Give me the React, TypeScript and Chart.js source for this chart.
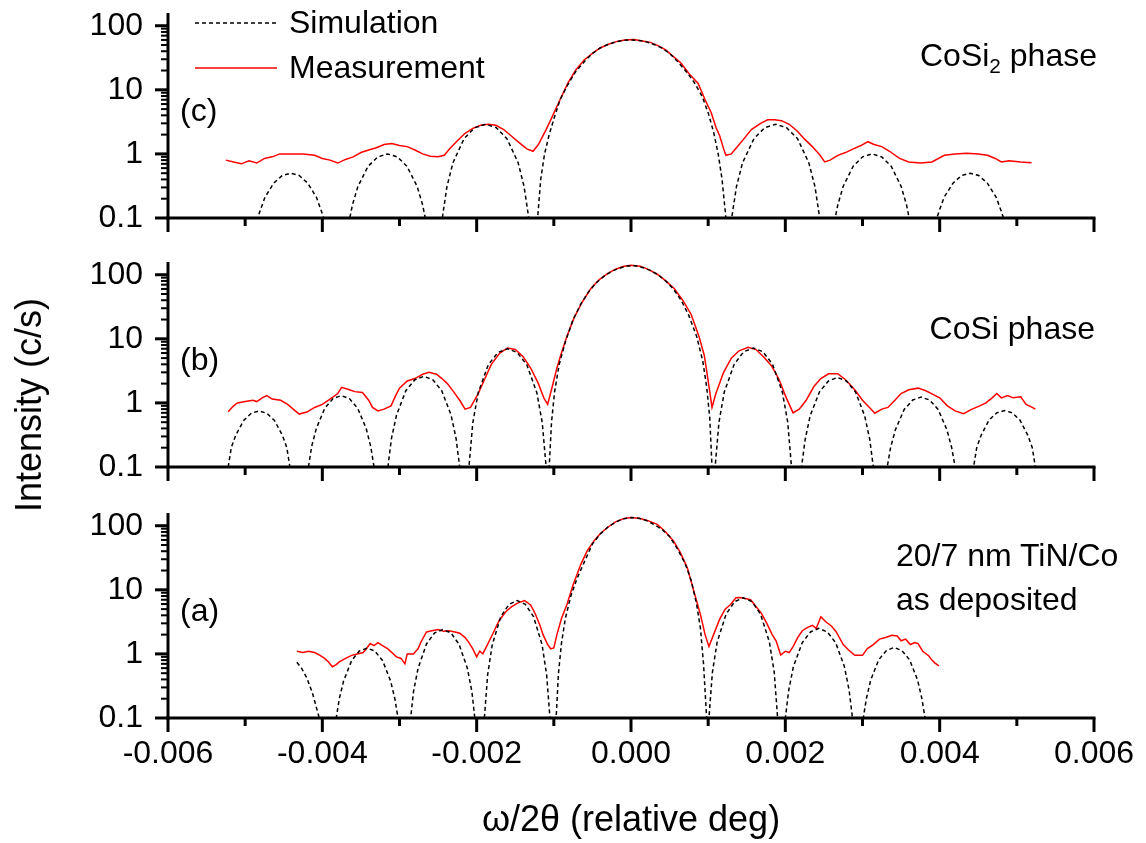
import React, { useEffect, useRef } from "react";
import { Chart, registerables } from "chart.js";

Chart.register(...registerables);

// ---------- axes ----------
const X_MIN = -0.006;
const X_MAX = 0.006;
const Y_MIN = 0.1;
const Y_MAX = 158;
const xMajorTicks = [-0.006, -0.004, -0.002, 0, 0.002, 0.004, 0.006];
const xMinorTicks = [-0.005, -0.003, -0.001, 0.001, 0.003, 0.005];
const yDecades = [0.1, 1, 10, 100];
const yMinorFactors = [2, 3, 4, 5, 6, 7, 8, 9];

const xTitle = "ω/2θ (relative deg)";
const yTitle = "Intensity (c/s)";
const seriesNames = ["Simulation", "Measurement"];

// ---------- data (x in 1e-3 deg) ----------
// Panel (c) CoSi2 phase
const simC_x = [
  -4.85, -4.806, -4.744, -4.63, -4.52, -4.41, -4.3, -4.19, -4.076, -4.014, -3.97, -3.815,
  -3.66, -3.61, -3.539, -3.408, -3.281, -3.155, -3.029, -2.903, -2.771, -2.7, -2.65, -2.545,
  -2.44, -2.385, -2.307, -2.163, -2.024, -1.885, -1.746, -1.608, -1.463, -1.386, -1.33, -1.27,
  -1.21, -1.17, -1.12, -1.06, -1.0, -0.92, -0.82, -0.72, -0.6, -0.5, -0.4, -0.3, -0.2, -0.1, 0,
  0.1, 0.2, 0.3, 0.4, 0.5, 0.6, 0.72, 0.82, 0.92, 1.0, 1.07, 1.13, 1.18, 1.23, 1.27,
  1.31, 1.367, 1.446, 1.593, 1.734, 1.875, 2.016, 2.158, 2.304, 2.384, 2.44, 2.535,
  2.63, 2.68, 2.749, 2.878, 3.001, 3.125, 3.249, 3.373, 3.501, 3.571, 3.62, 3.785,
  3.95, 3.995, 4.057, 4.173, 4.284, 4.395, 4.506, 4.618, 4.733, 4.796, 4.84,
];
const simC_y = [
  0.09, 0.13, 0.21, 0.35, 0.46, 0.5, 0.46, 0.35, 0.21, 0.13, 0.09, 0.01,
  0.08, 0.16, 0.31, 0.64, 0.9, 1.0, 0.9, 0.64, 0.31, 0.16, 0.08, 0.01,
  0.11, 0.31, 0.73, 1.73, 2.57, 2.9, 2.57, 1.73, 0.73, 0.31, 0.11, 0.01,
  0.1, 0.4, 1.0, 2.0, 3.5, 7, 12, 19, 28, 37, 45, 51, 56, 59, 60,
  59, 56, 51, 45, 37, 28, 19, 13, 8, 4.4, 2.2, 1.0, 0.4, 0.1, 0.01,
  0.11, 0.31, 0.73, 1.73, 2.57, 2.9, 2.57, 1.73, 0.73, 0.31, 0.11, 0.01,
  0.08, 0.16, 0.31, 0.64, 0.9, 1.0, 0.9, 0.64, 0.31, 0.16, 0.08, 0.01,
  0.09, 0.13, 0.21, 0.35, 0.46, 0.5, 0.46, 0.35, 0.21, 0.13, 0.09,
];
const measC_x = [
  -5.25, -5.15, -5.05, -4.95, -4.85, -4.75, -4.65, -4.55, -4.4, -4.25, -4.1, -4.0, -3.9, -3.8,
  -3.7, -3.6, -3.5, -3.4, -3.3, -3.2, -3.1, -3.0, -2.9, -2.8, -2.7, -2.6, -2.5, -2.42, -2.35,
  -2.25, -2.15, -2.05, -1.95, -1.85, -1.75, -1.65, -1.55, -1.45, -1.35, -1.27, -1.2, -1.1,
  -1.04, -0.92, -0.82, -0.72, -0.61, -0.5, -0.4, -0.3, -0.18, -0.08, 0.04, 0.15, 0.25, 0.35,
  0.45, 0.55, 0.65, 0.75, 0.87, 0.96, 1.04, 1.1, 1.15, 1.2, 1.23, 1.3, 1.38, 1.46, 1.56, 1.68,
  1.77, 1.86, 1.95, 2.05, 2.15, 2.25, 2.35, 2.45, 2.51, 2.58, 2.68, 2.78, 2.88, 2.98, 3.07,
  3.15, 3.25, 3.35, 3.48, 3.6, 3.75, 3.9, 4.06, 4.2, 4.35, 4.5, 4.62, 4.72, 4.8, 4.9, 5.05, 5.19,
];
const measC_y = [
  0.8, 0.75, 0.7, 0.78, 0.72, 0.85, 0.9, 1.0, 1.0, 1.0, 0.95, 0.85, 0.8, 0.72,
  0.82, 0.9, 1.05, 1.15, 1.25, 1.4, 1.45, 1.35, 1.3, 1.15, 1.0, 0.92, 0.9, 0.95, 1.2,
  1.6, 2.1, 2.5, 2.8, 2.9, 2.8, 2.4, 1.9, 1.5, 1.2, 1.1, 1.4, 2.4,
  3.4, 7, 12.6, 20, 29, 37, 45, 51, 57, 60, 61, 58, 55, 49,
  42, 33, 26, 18, 12.6, 7, 4.4, 2.6, 1.9, 1.2, 0.95, 1.0, 1.3, 1.7, 2.4, 3.0,
  3.4, 3.4, 3.3, 2.9, 2.3, 1.7, 1.3, 0.95, 0.75, 0.8, 0.95, 1.05, 1.2, 1.35, 1.55,
  1.4, 1.3, 1.1, 0.85, 0.75, 0.72, 0.75, 0.95, 1.0, 1.02, 1.0, 0.95, 0.85, 0.75, 0.78, 0.75, 0.73,
];

// Panel (b) CoSi phase
const simB_x = [
  -5.22, -5.18, -5.124, -5.02, -4.92, -4.82, -4.72, -4.62, -4.516, -4.46, -4.42, -4.3,
  -4.18, -4.138, -4.078, -3.968, -3.861, -3.755, -3.649, -3.543, -3.432, -3.373, -3.33, -3.24,
  -3.15, -3.104, -3.038, -2.918, -2.801, -2.685, -2.569, -2.453, -2.332, -2.267, -2.22, -2.16,
  -2.1, -2.05, -1.98, -1.85, -1.725, -1.6, -1.475, -1.35, -1.22, -1.15, -1.1, -1.08,
  -1.06, -1.03, -0.99, -0.93, -0.85, -0.75, -0.65, -0.55, -0.45, -0.35, -0.25, -0.15, -0.05,
  0.05, 0.15, 0.25, 0.35, 0.45, 0.55, 0.65, 0.75, 0.85, 0.93, 0.98, 1.02, 1.05, 1.07,
  1.09, 1.14, 1.209, 1.338, 1.461, 1.585, 1.709, 1.833, 1.961, 2.031, 2.08, 2.145,
  2.21, 2.257, 2.322, 2.443, 2.559, 2.675, 2.791, 2.908, 3.028, 3.094, 3.14, 3.23,
  3.32, 3.364, 3.426, 3.54, 3.65, 3.76, 3.87, 3.98, 4.094, 4.156, 4.2, 4.32,
  4.44, 4.48, 4.536, 4.64, 4.74, 4.84, 4.94, 5.04, 5.144, 5.2, 5.24,
];
const simB_y = [
  0.1, 0.2, 0.31, 0.53, 0.69, 0.75, 0.69, 0.53, 0.31, 0.2, 0.1, 0.01,
  0.1, 0.21, 0.4, 0.83, 1.17, 1.3, 1.17, 0.83, 0.4, 0.21, 0.1, 0.01,
  0.1, 0.28, 0.65, 1.55, 2.3, 2.6, 2.3, 1.55, 0.65, 0.28, 0.1, 0.01,
  0.1, 0.49, 1.44, 3.93, 6.12, 7.0, 6.12, 3.93, 1.44, 0.49, 0.1, 0.01,
  0.1, 0.5, 1.5, 4, 9, 20, 35, 54, 75, 95, 113, 127, 137,
  138, 130, 117, 100, 80, 60, 40, 23, 11, 4.5, 1.8, 0.6, 0.1, 0.01,
  0.1, 0.5, 1.48, 4.04, 6.29, 7.2, 6.29, 4.04, 1.48, 0.5, 0.1, 0.01,
  0.1, 0.27, 0.63, 1.49, 2.2, 2.5, 2.2, 1.49, 0.63, 0.27, 0.1, 0.01,
  0.1, 0.2, 0.38, 0.79, 1.11, 1.23, 1.11, 0.79, 0.38, 0.2, 0.1, 0.01,
  0.1, 0.2, 0.31, 0.54, 0.7, 0.76, 0.7, 0.54, 0.31, 0.2, 0.1,
];
const measB_x = [
  -5.22, -5.15, -5.1, -5.0, -4.9, -4.85, -4.78, -4.72, -4.65, -4.54, -4.45, -4.35, -4.3, -4.2,
  -4.1, -4.0, -3.9, -3.8, -3.75, -3.65, -3.58, -3.48, -3.4, -3.35, -3.28, -3.2, -3.11, -3.05,
  -3.0, -2.9, -2.8, -2.7, -2.62, -2.52, -2.45, -2.38, -2.3, -2.22, -2.15, -2.08, -1.98, -1.9,
  -1.81, -1.7, -1.6, -1.5, -1.4, -1.3, -1.2, -1.13, -1.08, -1.02, -0.96, -0.91, -0.83, -0.74,
  -0.64, -0.52, -0.41, -0.3, -0.2, -0.09, 0, 0.12, 0.23, 0.35, 0.45, 0.56, 0.67, 0.78, 0.88,
  0.95, 1.0, 1.05, 1.1, 1.2, 1.3, 1.4, 1.52, 1.62, 1.72, 1.82, 1.92, 2.0, 2.1, 2.18, 2.27,
  2.37, 2.46, 2.56, 2.68, 2.78, 2.9, 3.0, 3.09, 3.16, 3.25, 3.33, 3.42, 3.5, 3.6, 3.72, 3.82,
  3.92, 4.0, 4.1, 4.2, 4.31, 4.42, 4.52, 4.6, 4.68, 4.74, 4.8, 4.88, 4.95, 5.05, 5.12, 5.2, 5.24,
];
const measB_y = [
  0.73, 0.9, 1.0, 1.05, 1.1, 1.05, 1.2, 1.3, 1.15, 1.1, 0.95, 0.75, 0.67, 0.72,
  0.85, 0.95, 1.15, 1.4, 1.75, 1.6, 1.5, 1.45, 1.1, 0.85, 0.75, 0.8, 0.9, 1.3,
  1.7, 2.2, 2.4, 2.8, 3.0, 2.8, 2.4, 2.0, 1.5, 1.1, 0.8, 0.85, 1.4, 2.3,
  4.0, 6.0, 7.2, 6.8, 5.3, 3.5, 2.0, 1.2, 0.95, 1.8, 3.5, 5.6, 11, 21,
  36, 61, 84, 105, 122, 136, 140, 136, 120, 100, 80, 61, 40, 24, 11,
  5.5, 2.2, 0.85, 1.4, 3.0, 5.0, 6.5, 7.4, 6.8, 5.2, 3.8, 2.3, 1.3, 0.7, 0.8, 1.1,
  1.8, 2.4, 2.85, 2.85, 2.3, 1.6, 1.1, 0.85, 0.69, 0.8, 0.85, 1.1, 1.4, 1.6, 1.7, 1.55,
  1.35, 1.2, 0.9, 0.75, 0.68, 0.8, 0.9, 1.0, 1.2, 1.4, 1.2, 1.3, 1.2, 1.25, 0.95, 0.85, 0.8,
];

// Panel (a) 20/7 nm TiN/Co as deposited
const simA_x = [
  -4.33, -4.27, -4.2, -4.13, -4.08, -4.04, -3.93,
  -3.82, -3.78, -3.724, -3.62, -3.52, -3.42, -3.32, -3.22, -3.116, -3.06, -3.02, -2.94,
  -2.86, -2.818, -2.759, -2.65, -2.545, -2.44, -2.335, -2.23, -2.121, -2.062, -2.02, -1.96,
  -1.9, -1.858, -1.798, -1.688, -1.581, -1.475, -1.369, -1.263, -1.152, -1.093, -1.05, -1.01,
  -0.97, -0.94, -0.9, -0.85, -0.78, -0.7, -0.6, -0.5, -0.4, -0.3, -0.2, -0.1, 0,
  0.1, 0.2, 0.3, 0.4, 0.5, 0.6, 0.7, 0.78, 0.85, 0.9, 0.94, 0.98, 0.995,
  1.01, 1.055, 1.117, 1.233, 1.344, 1.455, 1.566, 1.678, 1.793, 1.856, 1.9, 1.95,
  2.0, 2.044, 2.104, 2.218, 2.326, 2.435, 2.544, 2.653, 2.766, 2.827, 2.87, 2.94,
  3.01, 3.05, 3.106, 3.21, 3.31, 3.41, 3.51, 3.61, 3.714, 3.77, 3.81, 3.84,
];
const simA_y = [
  0.74, 0.6, 0.42, 0.25, 0.15, 0.1, 0.01,
  0.1, 0.2, 0.38, 0.79, 1.11, 1.23, 1.11, 0.79, 0.38, 0.2, 0.1, 0.01,
  0.09, 0.26, 0.6, 1.43, 2.13, 2.4, 2.13, 1.43, 0.6, 0.26, 0.09, 0.01,
  0.1, 0.47, 1.39, 3.81, 5.94, 6.8, 5.94, 3.81, 1.39, 0.47, 0.1, 0.01,
  0.1, 0.5, 1.5, 3.6, 8, 15, 28, 52, 74, 95, 114, 128, 134,
  131, 121, 104, 88, 68, 44, 26, 14, 6, 2.5, 0.7, 0.1, 0.01,
  0.1, 0.52, 1.54, 4.2, 6.56, 7.5, 6.56, 4.2, 1.54, 0.52, 0.1, 0.01,
  0.1, 0.27, 0.63, 1.49, 2.2, 2.5, 2.2, 1.49, 0.63, 0.27, 0.1, 0.01,
  0.1, 0.2, 0.39, 0.81, 1.13, 1.26, 1.13, 0.81, 0.39, 0.2, 0.1, 0.02,
];
const measA_x = [
  -4.33, -4.25, -4.18, -4.1, -4.03, -3.97, -3.92, -3.87, -3.82, -3.78, -3.7, -3.62, -3.55,
  -3.47, -3.42, -3.38, -3.33, -3.28, -3.22, -3.15, -3.1, -3.04, -2.98, -2.93, -2.9, -2.82,
  -2.76, -2.72, -2.65, -2.58, -2.5, -2.43, -2.36, -2.28, -2.22, -2.15, -2.1, -2.05, -2.0,
  -1.96, -1.92, -1.86, -1.78, -1.71, -1.62, -1.55, -1.47, -1.38, -1.3, -1.24, -1.18, -1.14,
  -1.08, -1.04, -1.0, -0.96, -0.9, -0.83, -0.75, -0.65, -0.57, -0.48, -0.4, -0.31, -0.2,
  -0.09, 0, 0.12, 0.22, 0.34, 0.45, 0.55, 0.64, 0.73, 0.82, 0.9, 0.96, 1.01, 1.07, 1.15,
  1.22, 1.29, 1.36, 1.42, 1.48, 1.55, 1.62, 1.69, 1.76, 1.83, 1.88, 1.94, 2.0, 2.05, 2.1,
  2.16, 2.22, 2.29, 2.35, 2.4, 2.46, 2.52, 2.6, 2.66, 2.75, 2.82, 2.9, 3.0, 3.06, 3.14, 3.22,
  3.3, 3.38, 3.45, 3.5, 3.56, 3.62, 3.68, 3.72, 3.78, 3.86, 3.9, 3.94, 3.99,
];
const measA_y = [
  1.1, 1.05, 1.1, 1.05, 0.95, 0.85, 0.75, 0.63, 0.68, 0.75, 0.85, 0.95, 1.0,
  1.05, 1.25, 1.45, 1.35, 1.5, 1.35, 1.2, 1.05, 0.9, 0.85, 0.7, 1.0, 1.0,
  1.2, 1.55, 2.2, 2.3, 2.4, 2.25, 2.3, 2.2, 2.1, 1.8, 1.5, 1.2, 0.9,
  1.1, 1.0, 1.4, 2.2, 3.3, 4.6, 5.4, 6.2, 6.8, 5.8, 4.2, 2.8, 2.0,
  1.4, 1.2, 1.24, 2.0, 3.6, 5.9, 12, 25, 40, 58, 75, 93, 115,
  130, 134, 130, 120, 105, 80, 58, 38, 22, 9, 4.1, 2.0, 1.3, 2.0, 3.5,
  5.0, 5.9, 7.5, 7.6, 7.3, 7.0, 5.5, 4.3, 3.0, 2.0, 1.6, 0.96, 1.1, 1.05, 1.3,
  1.8, 2.3, 2.6, 2.8, 2.5, 3.8, 3.2, 2.7, 2.2, 1.4, 1.15, 0.95, 0.95, 1.2, 1.4, 1.7,
  1.8, 1.95, 1.9, 1.6, 1.7, 1.4, 1.5, 1.45, 1.1, 0.93, 0.8, 0.72, 0.65,
];

// ---------- styling ----------
const FONT = '"Liberation Sans", Arial, Helvetica, sans-serif';
const W = 1146;
const PLOT_LEFT = 168;
const PLOT_RIGHT = 1094;
const PLOT_H = 205;
const PAD_TOP = 13;

const zeroPad = (s: any) => {
  s.paddingTop = 0;
  s.paddingBottom = 0;
  s.paddingLeft = 0;
  s.paddingRight = 0;
};

const axesPlugin = {
  id: "axesDraw",
  afterDatasetsDraw(chart: any) {
    const { ctx, chartArea, scales } = chart;
    const { left, right, top, bottom } = chartArea;
    const x = scales.x;
    const y = scales.y;
    const seg = (x1: number, y1: number, x2: number, y2: number) => {
      ctx.beginPath();
      ctx.moveTo(x1, y1);
      ctx.lineTo(x2, y2);
      ctx.stroke();
    };
    ctx.save();
    ctx.strokeStyle = "#000";
    ctx.setLineDash([]);
    ctx.lineCap = "butt";
    ctx.lineWidth = 3;
    seg(left, top, left, bottom + 1.5);
    seg(left - 1.5, bottom, right + 1.5, bottom);
    xMajorTicks.forEach((v) => {
      const px = x.getPixelForValue(v);
      seg(px, bottom, px, bottom + 14);
    });
    xMinorTicks.forEach((v) => {
      const px = x.getPixelForValue(v);
      seg(px, bottom, px, bottom + 8);
    });
    yDecades.forEach((v) => {
      const py = y.getPixelForValue(v);
      seg(left - 13, py, left, py);
    });
    ctx.lineWidth = 2;
    yDecades.forEach((d) => {
      yMinorFactors.forEach((f) => {
        const v = d * f;
        if (v < Y_MAX) {
          const py = y.getPixelForValue(v);
          seg(left - 7, py, left, py);
        }
      });
    });
    ctx.restore();
  },
};

const legendPlugin = {
  id: "legendLines",
  afterDraw(chart: any) {
    const ctx = chart.ctx;
    ctx.save();
    ctx.lineWidth = 1.5;
    ctx.strokeStyle = "#000";
    ctx.setLineDash([4, 3]);
    ctx.beginPath();
    ctx.moveTo(195, 23);
    ctx.lineTo(277, 23);
    ctx.stroke();
    ctx.setLineDash([]);
    ctx.strokeStyle = "#ff0000";
    ctx.beginPath();
    ctx.moveTo(195, 68);
    ctx.lineTo(277, 68);
    ctx.stroke();
    ctx.restore();
  },
};

type PanelProps = {
  top: number;
  height: number;
  simX: number[];
  simY: number[];
  measX: number[];
  measY: number[];
  bottomAxis: boolean;
  legend: boolean;
};

function Panel(p: PanelProps) {
  const ref = useRef<HTMLCanvasElement | null>(null);
  useEffect(() => {
    if (!ref.current) return;
    const xAxisH = p.height - PAD_TOP - PLOT_H;
    const chart = new Chart(ref.current, {
      type: "line",
      data: {
        datasets: [
          {
            label: seriesNames[0],
            data: p.simX.map((v, i) => ({ x: v / 1000, y: p.simY[i] })),
            borderColor: "#000000",
            borderWidth: 1.5,
            borderDash: [4, 3],
            pointRadius: 0,
            fill: false,
            tension: 0,
          },
          {
            label: seriesNames[1],
            data: p.measX.map((v, i) => ({ x: v / 1000, y: p.measY[i] })),
            borderColor: "#ff0000",
            borderWidth: 1.5,
            pointRadius: 0,
            fill: false,
            tension: 0,
          },
        ],
      },
      options: {
        animation: false,
        responsive: false,
        devicePixelRatio: 1,
        events: [],
        layout: { padding: { left: 0, right: W - PLOT_RIGHT, top: PAD_TOP, bottom: 0 } },
        plugins: { legend: { display: false }, tooltip: { enabled: false } },
        scales: {
          x: {
            type: "linear",
            min: X_MIN,
            max: X_MAX,
            grid: { display: false, drawTicks: false },
            border: { display: false },
            afterBuildTicks: (s: any) => {
              s.ticks = xMajorTicks.map((v) => ({ value: v }));
            },
            afterFit: (s: any) => {
              s.height = xAxisH;
              zeroPad(s);
            },
            ticks: {
              display: p.bottomAxis,
              autoSkip: false,
              maxRotation: 0,
              padding: 17,
              color: "#000",
              font: { family: FONT, size: 32 },
              callback: (v: any) => {
                const n = Number(v);
                return Math.abs(n) < 1e-9 ? "0.000" : n.toFixed(3);
              },
            },
            title: {
              display: p.bottomAxis,
              text: xTitle,
              color: "#000",
              font: { family: FONT, size: 36 },
              padding: { top: 0, bottom: 0 },
            },
          },
          y: {
            type: "logarithmic",
            min: Y_MIN,
            max: Y_MAX,
            grid: { display: false, drawTicks: false },
            border: { display: false },
            afterBuildTicks: (s: any) => {
              s.ticks = yDecades.map((v) => ({ value: v }));
            },
            afterFit: (s: any) => {
              s.width = PLOT_LEFT;
              zeroPad(s);
            },
            ticks: {
              autoSkip: false,
              padding: 25,
              color: "#000",
              font: { family: FONT, size: 32 },
              callback: (v: any) => {
                const n = Number(v);
                return n < 1 ? n.toFixed(1) : String(Math.round(n));
              },
            },
          },
        },
      } as any,
      plugins: p.legend ? [axesPlugin, legendPlugin] : [axesPlugin],
    });
    return () => chart.destroy();
  }, []);
  return (
    <canvas
      ref={ref}
      width={W}
      height={p.height}
      style={{ position: "absolute", left: 0, top: p.top, width: W, height: p.height }}
    />
  );
}

// text placed by baseline (line-height 1)
function Txt(props: {
  left?: number;
  right?: number;
  baseline: number;
  size?: number;
  children: React.ReactNode;
}) {
  const size = props.size ?? 32;
  const style: React.CSSProperties = {
    position: "absolute",
    top: props.baseline - 0.8465 * size,
    fontFamily: FONT,
    fontSize: size,
    lineHeight: 1,
    whiteSpace: "nowrap",
    color: "#000",
  };
  if (props.left !== undefined) style.left = props.left;
  if (props.right !== undefined) style.right = W - props.right;
  return <div style={style}>{props.children}</div>;
}

export default function App() {
  return (
    <div
      style={{
        position: "absolute",
        left: 0,
        top: 0,
        width: W,
        height: 843,
        background: "#fff",
        overflow: "hidden",
      }}
    >
      <Panel top={0} height={250} simX={simC_x} simY={simC_y} measX={measC_x} measY={measC_y} bottomAxis={false} legend={true} />
      <Panel top={249} height={250} simX={simB_x} simY={simB_y} measX={measB_x} measY={measB_y} bottomAxis={false} legend={false} />
      <Panel top={500} height={343} simX={simA_x} simY={simA_y} measX={measA_x} measY={measA_y} bottomAxis={true} legend={false} />

      <Txt left={289} baseline={33}>{seriesNames[0]}</Txt>
      <Txt left={289} baseline={78}>{seriesNames[1]}</Txt>

      <Txt left={180} baseline={121}>(c)</Txt>
      <Txt left={180} baseline={370}>(b)</Txt>
      <Txt left={180} baseline={621}>(a)</Txt>

      <Txt right={1097} baseline={66.5}>
        CoSi<sub style={{ fontSize: "0.65em", verticalAlign: "-0.35em", lineHeight: 0 }}>2</sub> phase
      </Txt>
      <Txt right={1095} baseline={339.5}>CoSi phase</Txt>
      <Txt left={896} baseline={566.5}>20/7 nm TiN/Co</Txt>
      <Txt left={896} baseline={610.5}>as deposited</Txt>

      <div
        style={{
          position: "absolute",
          left: 28.5,
          top: 405,
          transform: "translate(-50%, -50%) rotate(-90deg)",
          fontFamily: FONT,
          fontSize: 36,
          lineHeight: 1,
          whiteSpace: "nowrap",
          color: "#000",
        }}
      >
        {yTitle}
      </div>
    </div>
  );
}
